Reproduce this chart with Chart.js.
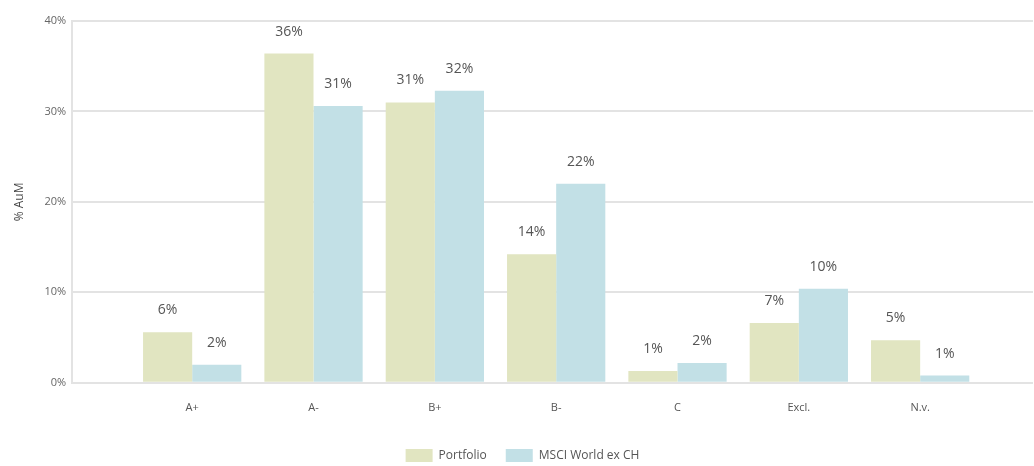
<!DOCTYPE html>
<html>
<head>
<meta charset="utf-8">
<script src="https://cdn.jsdelivr.net/npm/chart.js@4"></script>
<style>
  html, body { margin: 0; padding: 0; background: #fff; }
  #wrap { width: 1034px; height: 466px; }
</style>
</head>
<body>
<div id="wrap"><canvas id="chart"></canvas></div>
<script>
const categories = ['A+', 'A-', 'B+', 'B-', 'C', 'Excl.', 'N.v.'];
const portfolio  = [5.6, 36.4, 31.0, 14.2, 1.3, 6.6, 4.7];
const msci       = [2.0, 30.6, 32.3, 22.0, 2.2, 10.4, 0.8];
const yTicks     = [0, 10, 20, 30, 40];

const toPoints = arr => arr.map((v, i) => ({ x: i, y: v }));

const valueLabels = {
  id: 'valueLabels',
  afterDatasetsDraw(chart) {
    const ctx = chart.ctx;
    ctx.save();
    ctx.font = '14px "Open Sans", sans-serif';
    ctx.fillStyle = '#555';
    ctx.textAlign = 'center';
    ctx.textBaseline = 'middle';
    chart.data.datasets.forEach((ds, di) => {
      chart.getDatasetMeta(di).data.forEach((bar, i) => {
        ctx.fillText(Math.round(ds.data[i].y) + '%', bar.x, bar.y - 22);
      });
    });
    ctx.restore();
  }
};

new Chart(document.getElementById('chart').getContext('2d'), {
  type: 'bar',
  data: {
    datasets: [
      { label: 'Portfolio',         data: toPoints(portfolio), backgroundColor: '#e1e5c1' },
      { label: 'MSCI World ex CH',  data: toPoints(msci),      backgroundColor: '#c2e0e6' }
    ]
  },
  options: {
    responsive: true,
    maintainAspectRatio: false,
    animation: false,
    categoryPercentage: 0.81,
    barPercentage: 1,
    layout: { padding: { top: 21, right: 1, left: 12, bottom: -6 } },
    plugins: {
      tooltip: { enabled: false },
      legend: {
        position: 'bottom',
        labels: {
          boxWidth: 27,
          boxHeight: 13,
          color: '#555',
          font: { family: '"Open Sans", sans-serif', size: 12 },
          padding: 19
        }
      }
    },
    scales: {
      x: {
        type: 'linear',
        offset: false,
        min: -0.99,
        max: 6.93,
        afterBuildTicks: s => { s.ticks = categories.map((c, i) => ({ value: i })); },
        afterFit: s => { s.height += 6; },
        grid: { display: false },
        border: { display: false },
        ticks: {
          color: '#555',
          font: { family: '"Open Sans", sans-serif', size: 11 },
          padding: 10,
          callback: v => categories[v] ?? ''
        }
      },
      y: {
        min: 0,
        max: 40,
        afterBuildTicks: s => { s.ticks = yTicks.map(v => ({ value: v })); },
        grid: { color: '#e3e3e3', lineWidth: 2, drawTicks: false },
        border: { color: '#e3e3e3', width: 2 },
        ticks: {
          color: '#666',
          font: { family: '"Open Sans", sans-serif', size: 11 },
          padding: 6,
          callback: v => v + '%'
        },
        title: {
          display: true,
          text: '% AuM',
          color: '#444',
          font: { family: '"Open Sans", sans-serif', size: 12 },
          padding: { top: 0, bottom: 12 }
        }
      }
    }
  },
  plugins: [valueLabels]
});
</script>
</body>
</html>
